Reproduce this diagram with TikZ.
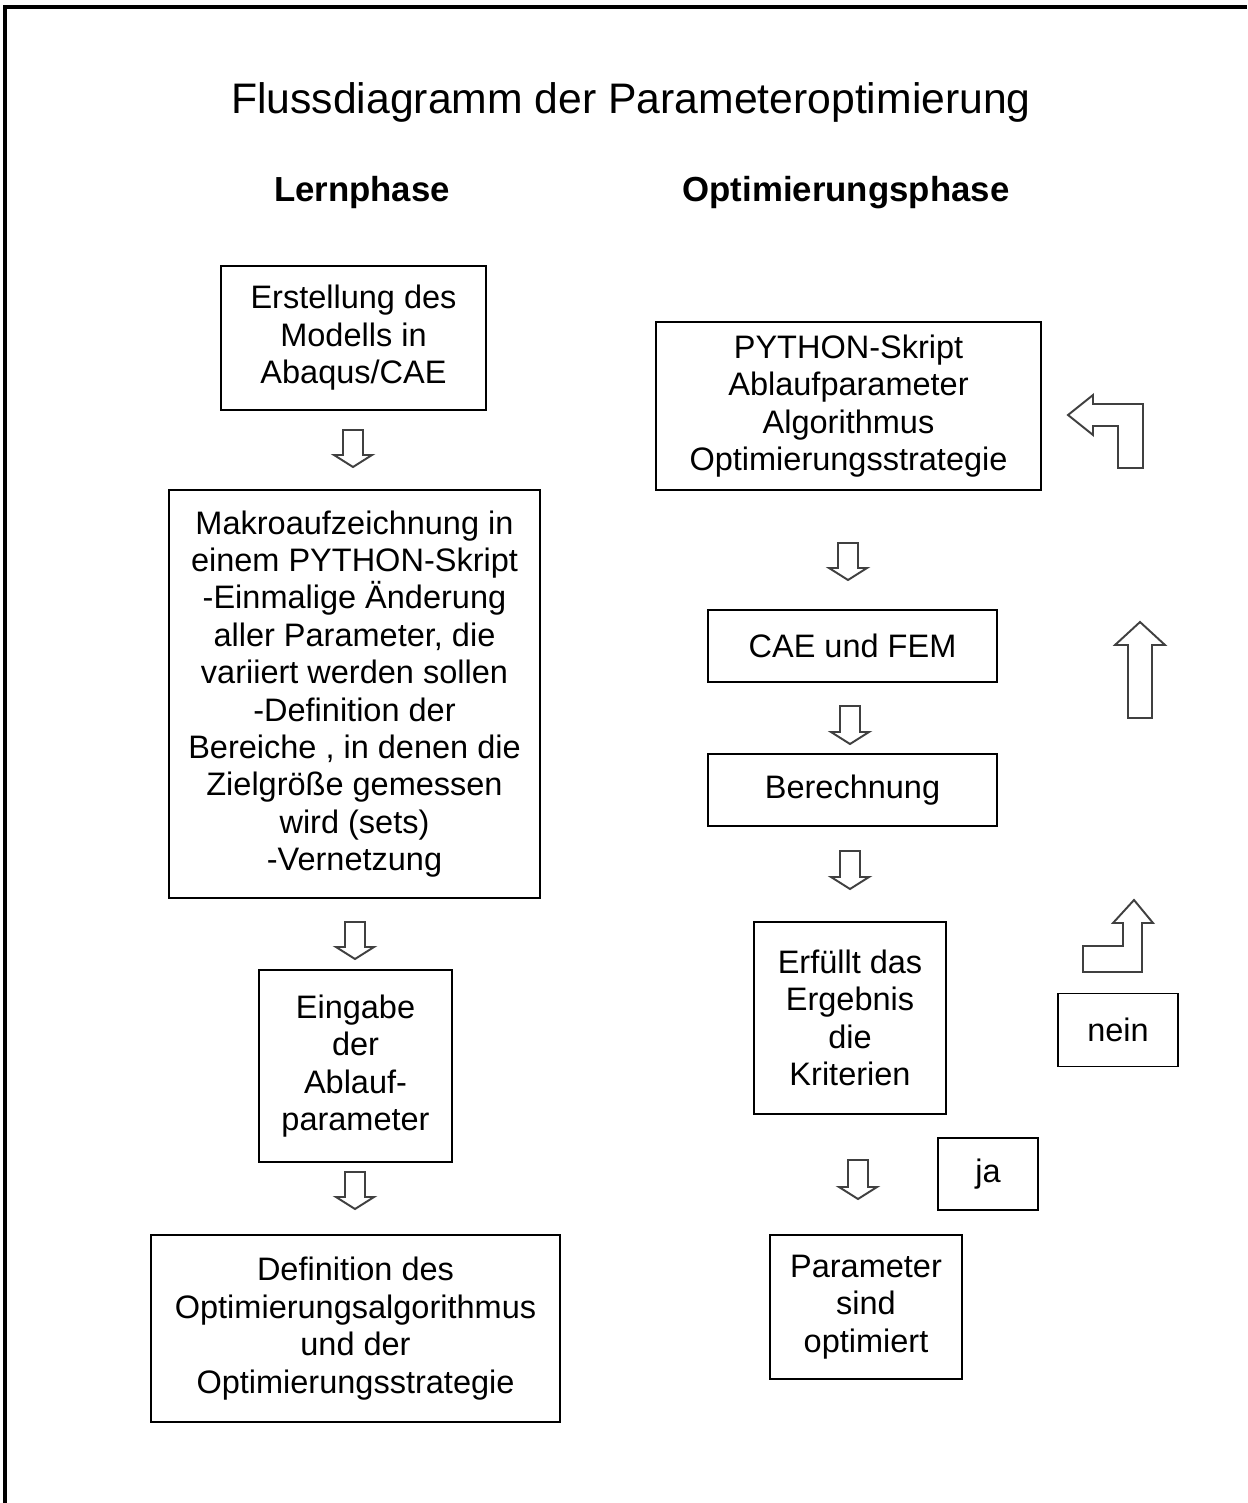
\documentclass[tikz,border=0pt]{standalone}
\usepackage{fontspec}
\setmainfont{Liberation Sans}
\usepackage{tikz}

\begin{document}
\begin{tikzpicture}[x=0.02cm, y=-0.02cm,
    box/.style={draw, line width=1.1pt, align=center, inner sep=0pt,
        font=\fontsize{18.5}{21.3}\selectfont},
    heading/.style={inner sep=0pt, anchor=base},
    blockarrow/.style={draw=black!75, line width=1.1pt, fill=white, line join=miter}]
    \useasboundingbox (0,0) rectangle (1247,1503);

    % Frame
    \draw[line width=1.8pt] (5,1503) -- (5,7) -- (1247,7);

    % Titles
    \node[heading, font=\fontsize{24.3}{28}\selectfont] (title) at (631,114) {Flussdiagramm der Parameteroptimierung};
    \node[heading, font=\fontsize{19.8}{24}\selectfont\bfseries] (lern) at (362,202) {Lernphase};
    \node[heading, font=\fontsize{19.8}{24}\selectfont\bfseries] (optphase) at (846,202) {Optimierungsphase};

    % Lernphase
    \node[box, minimum width=5.30cm, minimum height=2.88cm] (erstellung) at (353.5,338) {Erstellung des\\Modells in\\Abaqus/CAE};
    \node[box, minimum width=7.42cm, minimum height=8.16cm] (makro) at (354.5,694) {Makroaufzeichnung in\\einem PYTHON-Skript\\-Einmalige Änderung\\aller Parameter, die\\variiert werden sollen\\-Definition der\\Bereiche , in denen die\\Zielgröße gemessen\\wird (sets)\\-Vernetzung};
    \node[box, minimum width=3.86cm, minimum height=3.84cm] (eingabe) at (355.5,1066) {Eingabe\\der\\Ablauf-\\parameter};
    \node[box, minimum width=8.18cm, minimum height=3.74cm] (definition) at (355.5,1328.5) {Definition des\\Optimierungsalgorithmus\\und der\\Optimierungsstrategie};

    % Optimierungsphase
    \node[box, minimum width=7.70cm, minimum height=3.36cm] (skript) at (848.5,406) {PYTHON-Skript\\Ablaufparameter\\Algorithmus\\Optimierungsstrategie};
    \node[box, minimum width=5.78cm, minimum height=1.44cm] (cae) at (852.5,646) {CAE und FEM};
    \node[box, minimum width=5.78cm, minimum height=1.44cm] (berechnung) at (852.5,790) {Berechnung};
    \node[box, minimum width=3.84cm, minimum height=3.84cm] (kriterien) at (850,1018) {Erfüllt das\\Ergebnis\\die\\Kriterien};
    \node[box, minimum width=2.00cm, minimum height=1.44cm] (ja) at (988,1174) {ja};
    \node[box, minimum width=3.84cm, minimum height=2.88cm] (optimiert) at (866,1307) {Parameter\\sind\\optimiert};
    \node[box, minimum width=2.40cm, minimum height=1.46cm] (nein) at (1118,1030) {nein};

    % Block arrows, left
    \draw[blockarrow] (343,430) -- ++(20,0) -- ++(0,25) -- ++(9,0) -- ++(-19,12) -- ++(-19,-12) -- ++(9,0) -- cycle;
    \draw[blockarrow] (345,922) -- ++(20,0) -- ++(0,25) -- ++(9,0) -- ++(-19,12) -- ++(-19,-12) -- ++(9,0) -- cycle;
    \draw[blockarrow] (345,1172) -- ++(20,0) -- ++(0,25) -- ++(9,0) -- ++(-19,12) -- ++(-19,-12) -- ++(9,0) -- cycle;

    % Block arrows, right
    \draw[blockarrow] (838,543) -- ++(20,0) -- ++(0,25) -- ++(9,0) -- ++(-19,12) -- ++(-19,-12) -- ++(9,0) -- cycle;
    \draw[blockarrow] (840,706) -- ++(20,0) -- ++(0,26) -- ++(9,0) -- ++(-19,12) -- ++(-19,-12) -- ++(9,0) -- cycle;
    \draw[blockarrow] (840,851) -- ++(20,0) -- ++(0,26) -- ++(9,0) -- ++(-19,12) -- ++(-19,-12) -- ++(9,0) -- cycle;
    \draw[blockarrow] (848,1160) -- ++(20,0) -- ++(0,27) -- ++(9,0) -- ++(-19,12) -- ++(-19,-12) -- ++(9,0) -- cycle;

    % Loop back (nein)
    \draw[blockarrow] (1134,900) -- (1153,923) -- (1142,923) -- (1142,972) -- (1083,972) -- (1083,946) -- (1123,946) -- (1123,923) -- (1113,923) -- cycle;
    \draw[blockarrow] (1140,622) -- (1165,645) -- (1152,645) -- (1152,718) -- (1128,718) -- (1128,645) -- (1115,645) -- cycle;
    \draw[blockarrow] (1068,415) -- (1093,395) -- (1093,404) -- (1143,404) -- (1143,468) -- (1118,468) -- (1118,426) -- (1093,426) -- (1093,435) -- cycle;
\end{tikzpicture}
\end{document}
